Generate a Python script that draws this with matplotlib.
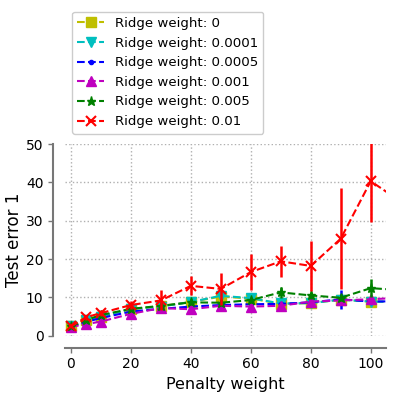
import numpy as np
import matplotlib
matplotlib.use('Agg')
import matplotlib.pyplot as plt

# penalty weights on the x axis (last one lies past the visible range)
penalty = [0, 5, 10, 20, 30, 40, 50, 60, 70, 80, 90, 100, 110]

ridge_labels = ['Ridge weight: 0', 'Ridge weight: 0.0001', 'Ridge weight: 0.0005',
                'Ridge weight: 0.001', 'Ridge weight: 0.005', 'Ridge weight: 0.01']

err_r0 = [2.4, 4.0, 5.0, 6.9, 7.7, 8.8, 10.2, 9.7, 8.3, 8.5, 9.4, 8.9, 8.8]
err_r00001 = [2.4, 4.0, 5.0, 7.0, 7.6, 8.8, 10.4, 9.8, 8.4, 8.5, 9.4, 8.9, 8.8]
err_r00005 = [2.3, 3.6, 4.6, 6.3, 7.0, 7.6, 8.0, 8.2, 8.3, 8.7, 9.5, 8.9, 9.0]
err_r0001 = [2.3, 3.0, 3.7, 5.7, 7.2, 6.9, 7.8, 7.6, 7.8, 8.9, 9.2, 9.5, 9.9]
err_r0005 = [2.4, 4.1, 5.4, 7.0, 7.8, 8.7, 8.6, 9.3, 11.3, 10.5, 9.9, 12.4, 11.9]
err_r001 = [2.4, 4.8, 5.9, 8.0, 9.2, 13.0, 12.2, 16.6, 19.4, 18.2, 25.3, 40.3, 35.0]

sd_r0 = [0.3, 0.3, 0.4, 0.5, 0.5, 0.6, 0.8, 0.8, 0.6, 0.6, 0.8, 0.8, 0.8]
sd_r00001 = [0.3, 0.3, 0.4, 0.5, 0.5, 0.6, 0.9, 0.8, 0.6, 0.6, 0.8, 0.8, 0.8]
sd_r00005 = [0.3, 0.3, 0.4, 0.5, 0.5, 0.5, 0.6, 0.6, 0.6, 0.6, 2.5, 0.7, 0.7]
sd_r0001 = [0.3, 0.3, 0.4, 0.5, 0.5, 0.5, 0.5, 0.5, 0.5, 0.5, 0.6, 0.6, 0.6]
sd_r0005 = [0.3, 0.3, 0.4, 0.5, 0.6, 0.8, 0.8, 0.9, 1.4, 0.9, 0.9, 2.4, 1.5]
sd_r001 = [0.4, 0.6, 0.7, 1.0, 2.6, 2.5, 4.2, 4.8, 4.0, 6.6, 13.1, 10.7, 9.0]

series = [
    (err_r0, sd_r0, 'y', 's'),
    (err_r00001, sd_r00001, 'c', 'v'),
    (err_r00005, sd_r00005, 'b', '.'),
    (err_r0001, sd_r0001, 'm', '^'),
    (err_r0005, sd_r0005, 'g', '*'),
    (err_r001, sd_r001, 'r', 'x'),
]

fig = plt.figure(figsize=(3.98, 3.97), dpi=100)
ax = fig.add_axes([65 / 398, 1 - 335.7 / 397, 320.7 / 398, 191.7 / 397])

for (vals, sds, col, mk), lab in zip(series, ridge_labels):
    ax.errorbar(penalty, vals, yerr=sds, fmt='none', ecolor=col, elinewidth=1.8)
    ax.plot(penalty, vals, color=col, marker=mk, linestyle='--', linewidth=1.5,
            markersize=6.5 if mk != '.' else 6,
            markeredgewidth=1.5 if mk == 'x' else 1.0, label=lab)

ax.set_xlim(-2, 105)
ax.set_ylim(0, 50)
ax.set_xticks([0, 20, 40, 60, 80, 100])
ax.set_yticks([0, 10, 20, 30, 40, 50])
ax.grid(True, linestyle=':', color='#b0b0b0', linewidth=1.0)
ax.set_axisbelow(True)

for side in ['top', 'right']:
    ax.spines[side].set_visible(False)
for side in ['left', 'bottom']:
    ax.spines[side].set_position(('outward', 8.5))
    ax.spines[side].set_color('#777777')
    ax.spines[side].set_linewidth(1.5)
ax.tick_params(colors='#777777', labelcolor='black', labelsize=10, length=3.5, width=1.0)

ax.set_xlabel('Penalty weight', fontsize=11.5)
ax.set_ylabel('Test error 1', fontsize=12, labelpad=2)

ax.legend(loc='lower left', bbox_to_anchor=(72 / 398, 1 - 133.5 / 397),
          bbox_transform=fig.transFigure, borderaxespad=0, fontsize=9.6,
          frameon=True, edgecolor='#cccccc', fancybox=True, framealpha=1.0)

fig.savefig('out.png', dpi=100)
